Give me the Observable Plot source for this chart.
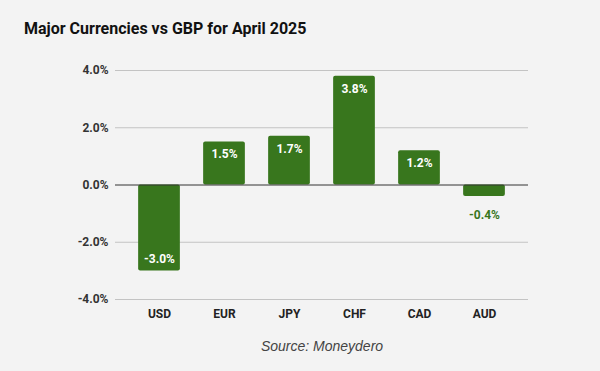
<!DOCTYPE html>
<html>
<head>
<meta charset="utf-8">
<script src="https://cdn.jsdelivr.net/npm/d3@7"></script>
<script src="https://cdn.jsdelivr.net/npm/@observablehq/plot@0.6"></script>
<style>
  html, body { margin: 0; padding: 0; background: #f3f3f3; }
  #wrap { position: relative; width: 600px; height: 371px; background: #f3f3f3; overflow: hidden; }
  #title { position: absolute; left: 24px; top: 19px; font-family: Roboto, sans-serif; font-weight: 700; font-size: 16px; color: #111; }
  #chart { position: absolute; left: 0; top: 0; }
  #caption { position: absolute; left: 0; width: 644px; text-align: center; top: 338px; font-family: "Liberation Sans", Arial, sans-serif; font-style: italic; font-size: 14px; color: #444; }
</style>
</head>
<body>
<div id="wrap">
  <div id="chart"></div>
  <div id="title">Major Currencies vs GBP for April 2025</div>
  <div id="caption">Source: Moneydero</div>
</div>
<script>
const currencies = ["USD", "EUR", "JPY", "CHF", "CAD", "AUD"];
const changes = [-3.0, 1.5, 1.7, 3.8, 1.2, -0.4];
const yTicks = [-4, -2, 0, 2, 4];

const data = currencies.map((c, i) => ({currency: c, value: changes[i]}));
const green = "#38761d";
const fmt = v => v.toFixed(1) + "%";

const positive = data.filter(d => d.value >= 0);
const bigNeg = data.filter(d => d.value < -1);
const smallNeg = data.filter(d => d.value < 0 && d.value >= -1);

const labelOpts = {x: "currency", y: "value", text: d => fmt(d.value), fontSize: 12, fontWeight: "bold"};

const plot = Plot.plot({
  width: 600,
  height: 371,
  marginLeft: 115,
  marginRight: 72,
  marginTop: 70,
  marginBottom: 72,
  style: {background: "transparent", fontFamily: "Roboto, sans-serif"},
  x: {domain: currencies, paddingInner: 0.358, paddingOuter: 0.356, round: false, label: null},
  y: {domain: [-4, 4], label: null},
  marks: [
    Plot.ruleY(yTicks.filter(d => d !== 0), {stroke: "#c3c3c3", strokeWidth: 1}),
    Plot.axisY(yTicks, {tickSize: 0, tickPadding: 7, tickFormat: fmt, fontSize: 12, fontWeight: "bold", fill: "#333", label: null}),
    Plot.axisX({tickSize: 0, tickPadding: 10, fontSize: 12, fontWeight: "bold", fill: "#222", label: null}),
    Plot.barY(data, {x: "currency", y: "value", fill: green, rx: 2}),
    Plot.ruleY([0], {stroke: "#333", strokeWidth: 1}),
    Plot.text(positive, {...labelOpts, dy: 12.5, fill: "white"}),
    Plot.text(bigNeg, {...labelOpts, dy: -11.5, fill: "white"}),
    Plot.text(smallNeg, {...labelOpts, dy: 19, fill: green})
  ]
});
document.getElementById("chart").appendChild(plot);
</script>
</body>
</html>
